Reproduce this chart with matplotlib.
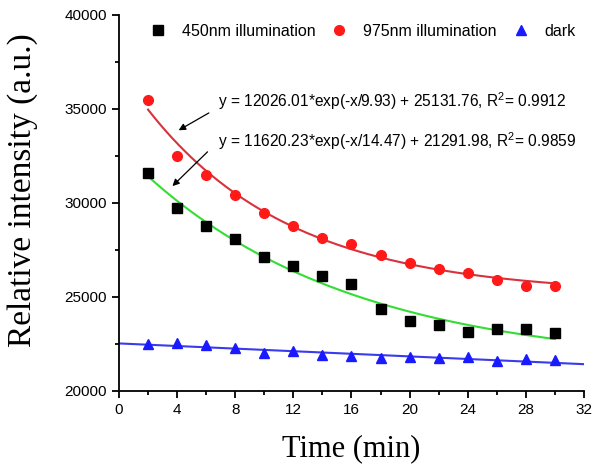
import numpy as np
import matplotlib
matplotlib.use("Agg")
import matplotlib.pyplot as plt

time_min = [2, 4, 6, 8, 10, 12, 14, 16, 18, 20, 22, 24, 26, 28, 30]
illum_450 = [31580, 29730, 28770, 28080, 27100, 26620, 26110, 25680, 24330, 23710, 23500, 23130, 23270, 23270, 23090]
illum_975 = [35500, 32500, 31500, 30440, 29460, 28750, 28140, 27820, 27200, 26790, 26490, 26270, 25900, 25560, 25580]
dark = [22490, 22520, 22420, 22260, 22020, 22100, 21900, 21850, 21760, 21810, 21760, 21780, 21600, 21670, 21630]

# fit parameters (A, t, y0) for y = A*exp(-x/t) + y0
fit_975 = [12026.01, 9.93, 25131.76]
fit_450 = [11620.23, 14.47, 21291.98]
# linear fit for dark: intercept, slope
fit_dark = [22520, -34.5]

eq_975 = "y = 12026.01*exp(-x/9.93) + 25131.76, R$^2$= 0.9912"
eq_450 = "y = 11620.23*exp(-x/14.47) + 21291.98, R$^2$= 0.9859"

plt.rcParams['font.family'] = ['Liberation Sans', 'DejaVu Sans']
plt.rcParams['mathtext.fontset'] = 'custom'
plt.rcParams['mathtext.rm'] = 'Liberation Sans'

fig = plt.figure(figsize=(6, 4.68), dpi=100)
ax = fig.add_axes([0.1983, 0.165, 0.775, 0.803])

xf = np.linspace(2, 30, 200)
ax.plot(xf, fit_975[0] * np.exp(-xf / fit_975[1]) + fit_975[2], color='#d8323c', lw=1.5, zorder=2)
ax.plot(xf, fit_450[0] * np.exp(-xf / fit_450[1]) + fit_450[2], color='#33dd33', lw=1.5, zorder=2)
xl = np.array([0, 32])
ax.plot(xl, fit_dark[0] + fit_dark[1] * xl, color='#3a3aee', lw=1.5, zorder=2)

ax.plot(time_min, illum_450, 's', color='black', ms=6.5, ls='none', label='450nm illumination', zorder=3)
ax.plot(time_min, illum_975, 'o', color='#ff1a1a', ms=7, ls='none', label='975nm illumination', zorder=3)
ax.plot(time_min, dark, '^', color='#1a1aff', ms=7, ls='none', label='dark', zorder=3)

ax.set_xlim(0, 32)
ax.set_ylim(20000, 40000)
ax.set_xticks(np.arange(0, 33, 4))
ax.set_xticks(np.arange(0, 33, 2), minor=True)
ax.set_yticks(np.arange(20000, 40001, 5000))
ax.set_yticks(np.arange(20000, 40001, 2500), minor=True)
ax.spines['top'].set_visible(False)
ax.spines['right'].set_visible(False)
for s in ('left', 'bottom'):
    ax.spines[s].set_linewidth(1.3)
ax.tick_params(which='major', direction='out', length=5, width=1.3, labelsize=11)
ax.tick_params(which='minor', direction='out', length=3, width=1.3)

ax.set_xlabel('Time (min)', fontfamily='Liberation Serif', fontsize=22, labelpad=12.5)
ax.set_ylabel('Relative intensity (a.u.)', fontfamily='Liberation Serif', fontsize=24)
ax.yaxis.set_label_coords(-0.175, 0.534)

leg = ax.legend(loc='upper center', bbox_to_anchor=(0.524, 1.015), ncol=3, frameon=False,
                fontsize=11.5, handlelength=1.0, handletextpad=1.0, columnspacing=1.0)

ax.text(6.78, 35390, eq_975, fontsize=11.2, ha='left', va='center')
ax.text(6.78, 33300, eq_450, fontsize=11.2, ha='left', va='center')
ax.annotate('', xy=(3.94, 33790), xytext=(6.35, 34860),
            arrowprops=dict(arrowstyle='-|>', color='black', lw=0.9, mutation_scale=10))
ax.annotate('', xy=(3.54, 30790), xytext=(6.23, 32820),
            arrowprops=dict(arrowstyle='-|>', color='black', lw=0.9, mutation_scale=10))

fig.savefig('out.png', dpi=100)
